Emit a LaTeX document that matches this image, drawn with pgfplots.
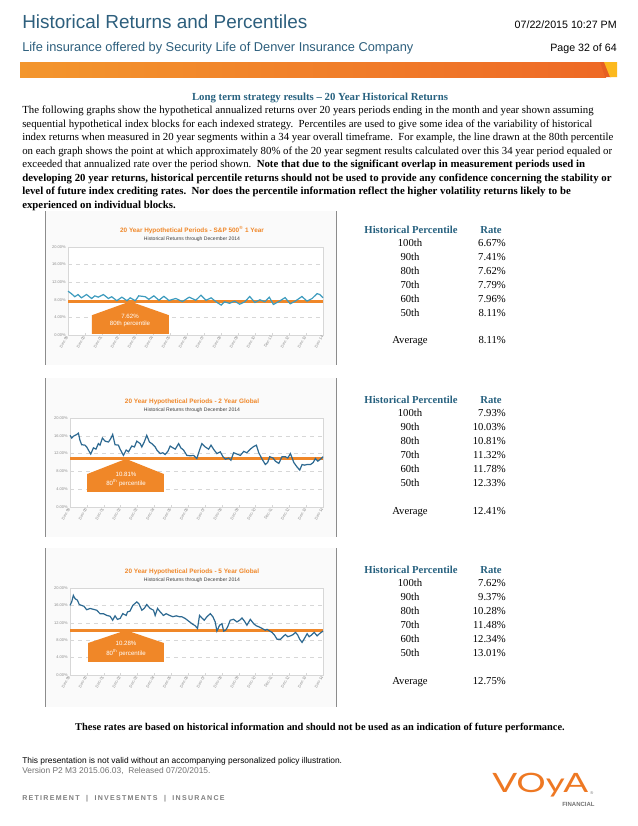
\documentclass[border=0pt]{standalone}
\usepackage{pgfplots}
\pgfplotsset{compat=1.18}
\usepackage{graphicx}
\usepackage{fontspec}
\setmainfont{Liberation Serif}
\setsansfont{Liberation Sans}
\newfontfamily\lato{Lato}
\definecolor{vblue}{RGB}{45,95,125}
\definecolor{vhead}{RGB}{40,98,128}
\definecolor{vorange}{RGB}{240,135,40}
\definecolor{logoc}{RGB}{238,120,35}
\definecolor{line1}{RGB}{60,155,190}
\definecolor{line2}{RGB}{45,105,145}
\definecolor{gridc}{RGB}{215,215,215}
\definecolor{tickc}{RGB}{140,140,140}
\definecolor{panelc}{RGB}{250,250,250}
\definecolor{framec}{RGB}{140,140,140}
\definecolor{barL}{RGB}{243,150,45}
\definecolor{barR}{RGB}{238,105,38}
\definecolor{barD}{RGB}{230,95,35}
\definecolor{barY}{RGB}{252,185,30}
\pgfplotsset{hist/.style={
  scale only axis, anchor=south west,
  xmin=0, xmax=15, ymin=0, ymax=20,
  xtick={0,...,15},
  xticklabels={Dec-99,Dec-00,Dec-01,Dec-02,Dec-03,Dec-04,Dec-05,Dec-06,Dec-07,Dec-08,Dec-09,Dec-10,Dec-11,Dec-12,Dec-13,Dec-14},
  ytick={0,4,8,12,16,20},
  yticklabels={0.00\%,4.00\%,8.00\%,12.00\%,16.00\%,20.00\%},
  tick label style={font=\sffamily\fontsize{3}{3.5}\selectfont, text=tickc},
  x tick label style={rotate=60, anchor=east, inner sep=1pt},
  y tick label style={inner sep=1.5pt},
  ymajorgrids, grid style={gridc, dashed, line width=0.4pt},
  axis line style={gridc, line width=0.4pt},
  major tick length=1.5pt, xtick style={gridc}, ytick style={draw=none},
  xtick pos=bottom, ytick pos=left,
  clip=false, axis background/.style={fill=white}
}}
\begin{document}
\begin{tikzpicture}
\begin{scope}[x=0.75pt,y=-0.75pt]
\path[use as bounding box] (0,0) rectangle (638,826);
\fill[white] (0,0) rectangle (638,826);
% header
\node[anchor=base west, inner sep=0, text=vblue, font=\sffamily\fontsize{14.2}{16}\selectfont] at (22,28) {Historical Returns and Percentiles};
\node[anchor=base west, inner sep=0, text=vblue, font=\sffamily\fontsize{9.6}{11}\selectfont] at (22,51) {Life insurance offered by Security Life of Denver Insurance Company};
\node[anchor=base east, inner sep=0, font=\sffamily\fontsize{8}{10}\selectfont] at (617,28) {07/22/2015 10:27 PM};
\node[anchor=base east, inner sep=0, font=\sffamily\fontsize{8}{10}\selectfont] at (617,51) {Page 32 of 64};
\shade[left color=barL, right color=barR] (20,62) rectangle (606,77);
\fill[barD] (600,62) -- (606,62) -- (611,77) -- (605,77) -- cycle;
\fill[barY] (604,62) -- (617,62) -- (617,77) -- (610,77) -- cycle;
% heading and paragraph
\node[anchor=base, inner sep=0, text=vhead, font=\bfseries\fontsize{8.1}{10}\selectfont] at (320,100) {Long term strategy results -- 20 Year Historical Returns};
\begin{scope}[every node/.style={anchor=base west, inner sep=0, font=\fontsize{8.1}{10}\selectfont}]
\node at (22,113.5) {The following graphs show the hypothetical annualized returns over 20 years periods ending in the month and year shown assuming};
\node at (22,127) {sequential hypothetical index blocks for each indexed strategy.\ \ Percentiles are used to give some idea of the variability of historical};
\node at (22,140.5) {index returns when measured in 20 year segments within a 34 year overall timeframe.\ \ For example, the line drawn at the 80th percentile};
\node at (22,154) {on each graph shows the point at which approximately 80\% of the 20 year segment results calculated over this 34 year period equaled or};
\node at (22,167.5) {exceeded that annualized rate over the period shown.\ \ \textbf{Note that due to the significant overlap in measurement periods used in}};
\node[font=\bfseries\fontsize{8.1}{10}\selectfont] at (22,181) {developing 20 year returns, historical percentile returns should not be used to provide any confidence concerning the stability or};
\node[font=\bfseries\fontsize{8.1}{10}\selectfont] at (22,194.5) {level of future index crediting rates.\ \ Nor does the percentile information reflect the higher volatility returns likely to be};
\node[font=\bfseries\fontsize{8.1}{10}\selectfont] at (22,208) {experienced on individual blocks.};
\end{scope}
% panels
\foreach \a/\b in {211/365, 378/537, 548/707} {
  \fill[panelc] (45,\a) rectangle (336,\b);
  \draw[framec, line width=0.6pt] (45,\a) -- (45,\b);
  \draw[framec, line width=0.6pt] (336,\a) -- (336,\b);
}
% chart titles
\begin{scope}[every node/.style={anchor=mid, inner sep=0}]
\node[text=vorange, font=\sffamily\bfseries\fontsize{4.8}{5.5}\selectfont] at (192,229) {20 Year Hypothetical Periods - S\&P 500\textsuperscript{®} 1 Year};
\node[text=black!75, font=\sffamily\fontsize{3.8}{4.5}\selectfont] at (192,237) {Historical Returns through December 2014};
\node[text=vorange, font=\sffamily\bfseries\fontsize{4.8}{5.5}\selectfont] at (192,400) {20 Year Hypothetical Periods - 2 Year Global};
\node[text=black!75, font=\sffamily\fontsize{3.8}{4.5}\selectfont] at (192,408) {Historical Returns through December 2014};
\node[text=vorange, font=\sffamily\bfseries\fontsize{4.8}{5.5}\selectfont] at (192,570) {20 Year Hypothetical Periods - 5 Year Global};
\node[text=black!75, font=\sffamily\fontsize{3.8}{4.5}\selectfont] at (192,578) {Historical Returns through December 2014};
\end{scope}
% tables
\begin{scope}[every node/.style={inner sep=0, font=\fontsize{8}{10}\selectfont}]
\foreach \h/\r/\av/\va/\vb/\vc/\vd/\ve/\vf/\vavg in {230/243/340/6.67/7.41/7.62/7.79/7.96/8.11/8.11, 400/413/511/7.93/10.03/10.81/11.32/11.78/12.33/12.41, 570/583/681/7.62/9.37/10.28/11.48/12.34/13.01/12.75} {
  \node[anchor=mid, text=vhead, font=\bfseries\fontsize{8}{10}\selectfont] at (411,\h) {Historical Percentile};
  \node[anchor=mid, text=vhead, font=\bfseries\fontsize{8}{10}\selectfont] at (491,\h) {Rate};
  \node[anchor=mid] at (410,\r) {100th};
  \node[anchor=mid] at (410,\r+14) {90th};
  \node[anchor=mid] at (410,\r+28) {80th};
  \node[anchor=mid] at (410,\r+42) {70th};
  \node[anchor=mid] at (410,\r+56) {60th};
  \node[anchor=mid] at (410,\r+70) {50th};
  \node[anchor=mid] at (410,\av) {Average};
  \node[anchor=mid east] at (506,\r) {\va\%};
  \node[anchor=mid east] at (506,\r+14) {\vb\%};
  \node[anchor=mid east] at (506,\r+28) {\vc\%};
  \node[anchor=mid east] at (506,\r+42) {\vd\%};
  \node[anchor=mid east] at (506,\r+56) {\ve\%};
  \node[anchor=mid east] at (506,\r+70) {\vf\%};
  \node[anchor=mid east] at (506,\av) {\vavg\%};
}
\end{scope}
% footer
\node[anchor=base, inner sep=0, font=\bfseries\fontsize{7.8}{10}\selectfont] at (320,730) {These rates are based on historical information and should not be used as an indication of future performance.};
\node[anchor=base west, inner sep=0, font=\sffamily\fontsize{6.3}{7}\selectfont] at (22,763) {This presentation is not valid without an accompanying personalized policy illustration.};
\node[anchor=base west, inner sep=0, text=black!55, font=\sffamily\fontsize{6.3}{7}\selectfont] at (22,773) {Version P2 M3 2015.06.03,\ \ Released 07/20/2015.};
\node[anchor=base west, inner sep=0, text=black!50, font=\sffamily\bfseries\fontsize{5.3}{6}\selectfont\addfontfeatures{LetterSpace=18}] at (22,800) {RETIREMENT\ \ |\ \ INVESTMENTS\ \ |\ \ INSURANCE};
\node[anchor=base west, inner sep=0, text=logoc, font=\lato\fontsize{20}{20}\selectfont] at (492,792) {\scalebox{1.38}[1]{VOyA}};
\node[anchor=base west, inner sep=0, text=black!55, font=\sffamily\fontsize{3}{3}\selectfont] at (590,794) {®};
\node[anchor=base west, inner sep=0, text=black!55, font=\sffamily\bfseries\fontsize{4.5}{5}\selectfont] at (562,806) {FINANCIAL};
\coordinate (p1) at (68,335);
\coordinate (p2) at (70,507);
\coordinate (p3) at (70,675);
\end{scope}

% chart 1
\begin{axis}[hist, at={(p1)}, width=191.25pt, height=66pt]
\addplot[vorange, line width=2.2pt] coordinates {(0,7.62) (15,7.62)};
\addplot[line1, line width=0.9pt] coordinates {(0,9.96)(0.20,9.4)(0.40,8.7)(0.59,9.2)(0.79,8.45)(1.09,9.2)(1.39,8.3)(1.58,8.9)(1.78,8.6)(2.08,9.2)(2.38,8.3)(2.57,8.7)(2.87,7.8)(3.17,8.6)(3.47,7.8)(3.66,8.45)(3.96,7.8)(4.16,8.9)(4.55,8.7)(4.75,8.1)(5.05,8.9)(5.35,7.9)(5.64,8.8)(5.94,7.85)(6.34,8.3)(6.73,7.6)(7.13,8.6)(7.52,7.9)(7.82,9.05)(8.12,7.9)(8.42,8.45)(8.71,7.55)(9.01,6.8)(9.21,7.55)(9.50,7.2)(9.80,7.7)(10.10,7.0)(10.40,7.55)(10.69,8.75)(10.99,7.4)(11.29,8.0)(11.58,7.55)(11.84,8.6)(12.08,6.95)(12.38,7.55)(12.77,8.5)(13.07,7.1)(13.37,7.7)(13.76,8.75)(14.06,7.7)(14.36,8.3)(14.65,9.4)(14.81,9.2)(15,8.45)};
\fill[vorange] (axis cs:1.41,0.25) -- (axis cs:5.94,0.25) -- (axis cs:5.94,4.5) -- (axis cs:3.65,7.62) -- (axis cs:1.41,4.5) -- cycle;
\node[text=white, font=\sffamily\fontsize{4.6}{5}\selectfont, inner sep=0] at (axis cs:3.65,4.2) {7.62\%};
\node[text=white, font=\sffamily\fontsize{4.6}{5}\selectfont, inner sep=0] at (axis cs:3.65,2.5) {80th percentile};
\end{axis}

% chart 2
\begin{axis}[hist, at={(p2)}, width=189.75pt, height=66.75pt]
\addplot[vorange, line width=2.2pt] coordinates {(0,10.81) (15,10.81)};
\addplot[line2, line width=0.9pt] coordinates {(0,16.1)(0.10,15.5)(0.20,15.9)(0.40,16.3)(0.50,16.6)(0.59,15.0)(0.69,14.0)(0.89,13.9)(0.99,13.5)(1.15,12.4)(1.23,11.9)(1.39,13.3)(1.54,13.0)(1.68,14.25)(1.78,13.9)(1.92,15.5)(2.08,14.8)(2.28,14.6)(2.42,15.4)(2.53,16.3)(2.67,14.0)(2.87,13.9)(2.97,13.0)(3.17,11.6)(3.33,12.8)(3.47,12.4)(3.66,13.7)(3.82,13.5)(3.96,14.8)(4.16,14.25)(4.26,13.5)(4.40,14.6)(4.55,16.1)(4.71,14.6)(4.85,14.25)(5.05,13.5)(5.15,12.8)(5.35,12.0)(5.50,12.2)(5.64,11.8)(5.80,12.5)(5.94,13.7)(6.10,13.3)(6.24,13.0)(6.44,14.25)(6.57,13.3)(6.73,12.8)(6.93,11.6)(7.13,11.5)(7.33,11.6)(7.52,10.9)(7.68,12.8)(7.82,14.25)(8.02,13.5)(8.22,13.0)(8.36,13.9)(8.51,13.0)(8.71,12.0)(8.91,12.4)(9.07,11.3)(9.21,10.75)(9.41,11.0)(9.54,10.5)(9.70,12.2)(9.90,11.9)(10.10,11.6)(10.30,12.5)(10.49,12.2)(10.69,13.0)(10.89,13.6)(11.05,13.9)(11.19,12.2)(11.39,10.75)(11.58,9.55)(11.72,10.0)(11.84,11.3)(12.04,11.0)(12.18,10.3)(12.38,9.8)(12.57,11.3)(12.77,11.3)(12.91,11.0)(13.07,12.0)(13.27,10.0)(13.46,9.0)(13.62,8.3)(13.76,9.55)(13.90,9.4)(14.06,9.55)(14.26,9.55)(14.42,10.0)(14.55,10.9)(14.69,10.3)(14.85,10.75)(15,11.3)};
\fill[vorange] (axis cs:1.01,3.4) -- (axis cs:5.57,3.4) -- (axis cs:5.57,7.4) -- (axis cs:3.32,10.81) -- (axis cs:1.01,7.4) -- cycle;
\node[text=white, font=\sffamily\fontsize{4.6}{5}\selectfont, inner sep=0] at (axis cs:3.32,7.3) {10.81\%};
\node[text=white, font=\sffamily\fontsize{4.6}{5}\selectfont, inner sep=0] at (axis cs:3.32,5.3) {80\textsuperscript{th} percentile};
\end{axis}

% chart 3
\begin{axis}[hist, at={(p3)}, width=189.75pt, height=65.25pt]
\addplot[vorange, line width=2.2pt] coordinates {(0,10.28) (15,10.28)};
\addplot[line2, line width=0.9pt] coordinates {(0,16.0)(0.10,16.8)(0.20,18.3)(0.30,17.55)(0.44,17.2)(0.55,16.2)(0.69,16.0)(0.83,15.8)(0.99,15.0)(1.19,15.3)(1.39,15.1)(1.58,14.9)(1.78,14.1)(1.98,14.1)(2.18,13.7)(2.38,13.5)(2.53,12.6)(2.67,13.6)(2.81,12.8)(2.97,13.0)(3.13,14.1)(3.33,13.7)(3.41,14.5)(3.56,14.7)(3.72,16.0)(3.96,16.8)(4.08,16.4)(4.26,14.9)(4.40,15.3)(4.55,16.2)(4.75,15.3)(4.95,14.9)(5.05,13.7)(5.19,15.3)(5.35,14.5)(5.54,13.7)(5.70,14.1)(5.90,13.7)(6.10,13.4)(6.30,13.6)(6.49,13.4)(6.63,13.4)(6.83,13.0)(7.03,12.4)(7.23,11.8)(7.43,11.3)(7.56,10.7)(7.68,13.7)(7.82,13.1)(7.96,12.6)(8.12,13.4)(8.32,14.1)(8.47,13.4)(8.61,12.2)(8.71,10.1)(8.87,11.45)(9.01,11.8)(9.11,10.1)(9.23,10.3)(9.35,11.1)(9.50,12.6)(9.70,12.8)(9.90,12.2)(10.06,12.6)(10.20,13.1)(10.34,12.4)(10.49,11.45)(10.69,12.8)(10.89,11.8)(11.05,11.3)(11.19,11.1)(11.39,10.7)(11.58,10.3)(11.68,10.5)(11.84,10.1)(11.98,9.8)(12.12,9.2)(12.28,8.2)(12.48,8.2)(12.63,8.8)(12.77,9.3)(12.91,8.8)(13.07,9.0)(13.23,9.3)(13.37,9.8)(13.50,9.2)(13.62,8.2)(13.76,7.5)(13.90,8.4)(14.06,9.5)(14.18,8.8)(14.32,9.2)(14.48,9.8)(14.65,9.0)(14.79,9.5)(15,10.1)};
\fill[vorange] (axis cs:1.07,3.0) -- (axis cs:5.57,3.0) -- (axis cs:5.57,7.35) -- (axis cs:3.32,10.28) -- (axis cs:1.07,7.35) -- cycle;
\node[text=white, font=\sffamily\fontsize{4.6}{5}\selectfont, inner sep=0] at (axis cs:3.32,7.2) {10.28\%};
\node[text=white, font=\sffamily\fontsize{4.6}{5}\selectfont, inner sep=0] at (axis cs:3.32,5.1) {80\textsuperscript{th} percentile};
\end{axis}
\end{tikzpicture}
\end{document}
